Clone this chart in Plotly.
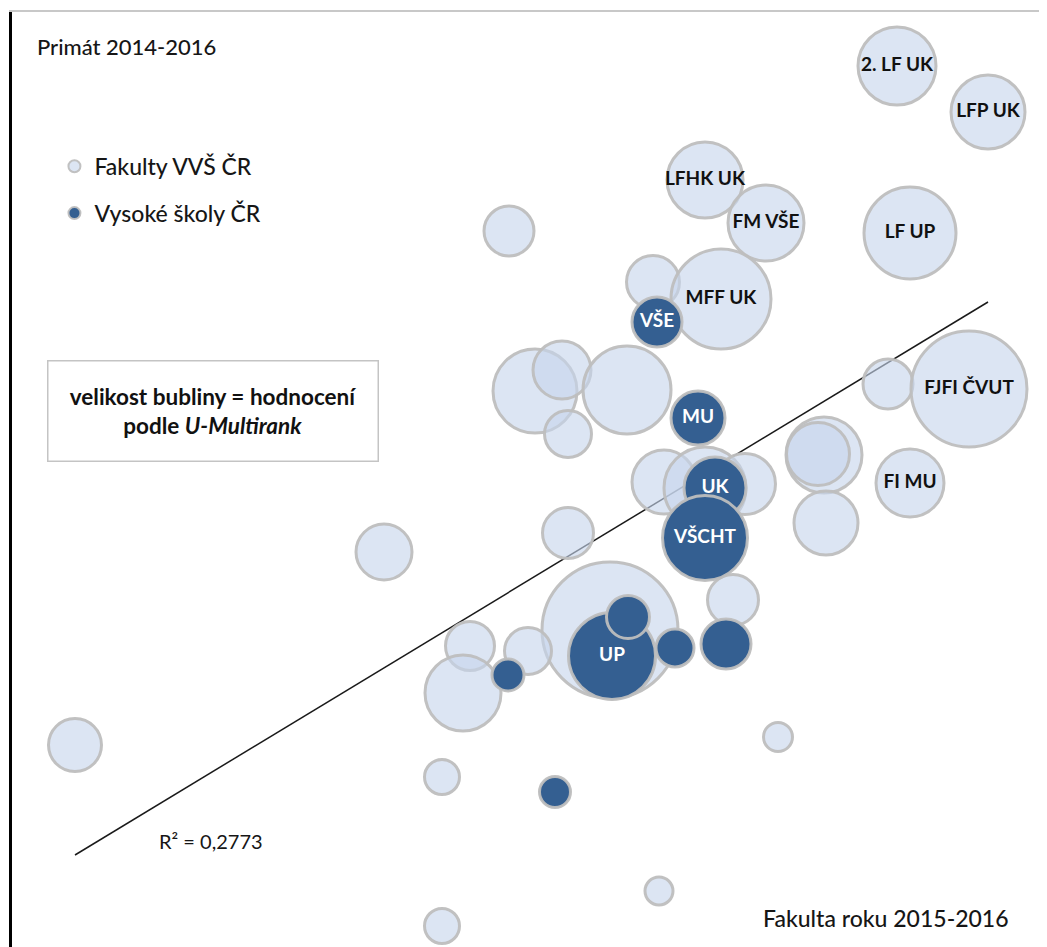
import plotly.graph_objects as go

# page body has an 8px default margin, so the figure is shrunk and shifted to compensate
W, H = 1039, 939
ML, MT = 4, 4

# ---- data (x = Fakulta roku score, y = Primát score, s = U-Multirank bubble size) ----
fac_x = [887, 978, 695, 756, 900, 499, 643, 711, 525, 552, 617, 558, 878, 959, 814, 808,
         816, 900, 654, 695, 735, 558, 600, 723, 374, 460, 453, 518, 65, 432, 768, 649, 432]
fac_y = [881, 835, 767, 724, 714, 716, 665, 648, 556, 577, 557, 513, 563, 558, 492, 493,
         424, 464, 465, 459, 463, 414, 317, 347, 395, 301, 254, 296, 202, 170, 210, 56, 21]
fac_s = [80, 76, 78, 78, 94, 52, 55, 102, 86, 60, 90, 49, 52, 118, 78, 65,
         66, 70, 66, 84, 63, 53, 138, 53, 58, 51, 78, 49, 55, 37, 31, 30, 37]
fac_label = ["2. LF UK", "LFP UK", "LFHK UK", "FM VŠE", "LF UP", "", "", "MFF UK", "", "", "", "",
             "", "FJFI ČVUT", "", "", "", "FI MU", "", "", "", "", "", "", "", "", "", "", "", "", "", "", ""]

vs_x = [647, 688, 705, 695, 602, 618, 665, 716, 498, 545]
vs_y = [625, 529, 459, 409, 291, 330, 299, 303, 272, 155]
vs_s = [52, 56, 64, 87, 89, 45, 40, 52, 34, 33]
vs_label = ["VŠE", "MU", "UK", "VŠCHT", "UP", "", "", "", "", ""]

trend_x = [65, 978]
trend_y = [92, 645]
r2_text = "R² = 0,2773"

X_RANGE = [2, 1037]
Y_RANGE = [0, 935]

FONT = "Lato"
LIGHT = "rgba(198,213,235,0.62)"
DARK = "rgb(52,95,145)"
EDGE = "rgba(190,190,190,0.95)"
TXT = "#161616"

fig = go.Figure()

fig.add_trace(go.Scatter(
    x=trend_x, y=trend_y, mode="lines",
    line=dict(color="#1a1a1a", width=1.5), showlegend=False, hoverinfo="skip"))

fig.add_trace(go.Scatter(
    x=fac_x, y=fac_y, mode="markers+text", name="Fakulty VVŠ ČR",
    text=fac_label, textposition="middle center",
    textfont=dict(family=FONT, size=19, color="#111111", weight="bold"),
    marker=dict(size=[s - 2 for s in fac_s], sizemode="diameter", sizeref=1, opacity=1,
                color=LIGHT, line=dict(color=EDGE, width=3)),
    legendgroup="a", cliponaxis=False))

fig.add_trace(go.Scatter(
    x=vs_x, y=vs_y, mode="markers+text", name="Vysoké školy ČR",
    text=vs_label, textposition="middle center",
    textfont=dict(family=FONT, size=19, color="white", weight="bold"),
    marker=dict(size=[s - 2 for s in vs_s], sizemode="diameter", sizeref=1, opacity=1,
                color=DARK, line=dict(color=EDGE, width=3)),
    legendgroup="b", cliponaxis=False))

annotations = [
    dict(x=25, y=901, xref="x", yref="y", text="Primát 2014-2016",
         showarrow=False, xanchor="left", yanchor="middle",
         font=dict(family=FONT, size=22, color=TXT, weight=500)),
    dict(x=1001, y=29, xref="x", yref="y", text="Fakulta roku 2015-2016",
         showarrow=False, xanchor="right", yanchor="middle",
         font=dict(family=FONT, size=23, color=TXT, weight=500)),
    dict(x=147, y=106, xref="x", yref="y", text=r2_text,
         showarrow=False, xanchor="left", yanchor="middle",
         font=dict(family=FONT, size=20, color=TXT)),
    dict(x=202.5, y=536.5, xref="x", yref="y",
         text="<b>velikost bubliny = hodnocení<br>podle <i>U-Multirank</i></b>",
         showarrow=False, xanchor="center", yanchor="middle", align="center",
         width=327, height=97, borderpad=1, bgcolor="white",
         bordercolor="#c4c4c4", borderwidth=1.5,
         font=dict(family=FONT, size=22.5, color="#111111")),
]

fig.update_layout(
    width=W, height=H,
    margin=dict(l=ML, r=0, t=MT, b=0),
    paper_bgcolor="white", plot_bgcolor="white",
    showlegend=True,
    legend=dict(x=0.041, y=0.858, xanchor="left", yanchor="top",
                bgcolor="rgba(0,0,0,0)", itemsizing="constant",
                traceorder="grouped", tracegroupgap=14,
                font=dict(family=FONT, size=23, color=TXT, weight=500)),
    xaxis=dict(range=X_RANGE, showgrid=False, zeroline=False, showticklabels=False,
               ticks="", side="top", showline=True, linecolor="#c8c8c8", linewidth=2,
               fixedrange=True),
    yaxis=dict(range=Y_RANGE, showgrid=False, zeroline=False, showticklabels=False,
               ticks="", showline=True, linecolor="#000000", linewidth=3, fixedrange=True),
    annotations=annotations,
    font=dict(family=FONT),
)

fig.write_html("out.html")
